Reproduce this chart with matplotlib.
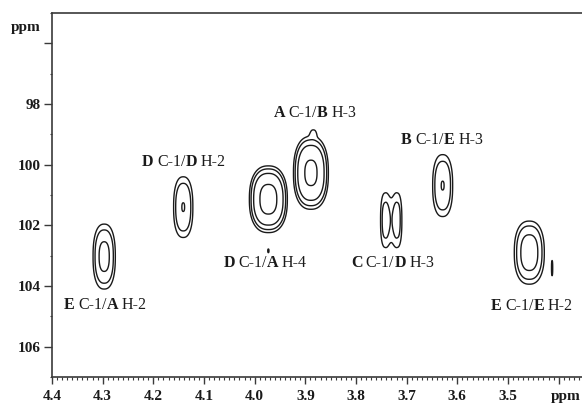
import numpy as np
import matplotlib
matplotlib.use('Agg')
import matplotlib.pyplot as plt
from matplotlib.ticker import MultipleLocator, FuncFormatter

plt.rcParams['font.family'] = ['Liberation Serif', 'DejaVu Serif']
plt.rcParams['font.weight'] = 'bold'
plt.rcParams['font.size'] = 11

# HMBC cross peaks (1H shift, 13C shift, spreads, intensity); same group = summed
shift_h = [4.297, 4.141, 3.973, 3.889, 3.884, 3.7427, 3.7184, 3.629, 3.458, 3.413, 3.973]
shift_c = [103.03, 101.40, 101.14, 100.27, 98.92, 101.83, 101.83, 100.69, 102.90, 103.41, 102.84]
width_h = [0.0256, 0.0236, 0.0338, 0.0320, 0.008, 0.0131, 0.0131, 0.0245, 0.0327, 0.0027, 0.0032]
width_c = [1.247, 1.243, 0.992, 1.115, 0.17, 1.31, 1.31, 1.268, 1.148, 0.568, 0.16]
height = [2.0, 1.81, 3.6, 3.3, 0.5, 1.482, 1.482, 1.81, 2.2, 1.15, 1.1]
group = [0, 1, 2, 3, 3, 4, 4, 5, 6, 7, 8]
levels = [1.0, 1.3, 1.8, 3.0]

# assignments: (text, bold) pieces, placed at (1H, 13C)
labels = [
    ([('E', 1), ('C-1/', 0), ('A', 1), ('H-2', 0)], 4.295, 104.62),
    ([('D', 1), ('C-1/', 0), ('D', 1), ('H-2', 0)], 4.140, 99.92),
    ([('D', 1), ('C-1/', 0), ('A', 1), ('H-4', 0)], 3.979, 103.25),
    ([('A', 1), ('C-1/', 0), ('B', 1), ('H-3', 0)], 3.881, 98.31),
    ([('C', 1), ('C-1/', 0), ('D', 1), ('H-3', 0)], 3.728, 103.25),
    ([('B', 1), ('C-1/', 0), ('E', 1), ('H-3', 0)], 3.630, 99.20),
    ([('E', 1), ('C-1/', 0), ('E', 1), ('H-2', 0)], 3.453, 104.65),
]
label_size = 11.5

p = 2.4
xh = np.linspace(3.354, 4.4, 3000)
yc = np.linspace(95, 107, 700)
X, Y = np.meshgrid(xh, yc)
sums = {}
for i in range(len(shift_h)):
    r = np.abs((X - shift_h[i]) / width_h[i]) ** p + np.abs((Y - shift_c[i]) / width_c[i]) ** p
    sums[group[i]] = sums.get(group[i], 0) + height[i] * np.exp(-r)
Z = np.max(np.stack(list(sums.values())), axis=0)

fig = plt.figure(figsize=(5.82, 4.05), dpi=100)
ax = fig.add_axes([52 / 582, 28 / 405, 530 / 582, 364 / 405])
ax.contour(X, Y, Z, levels=levels, colors='#1a1a1a', linewidths=1.0)

ax.set_xlim(4.4, 3.354)
ax.set_ylim(107, 95)
ax.spines['right'].set_visible(False)
for s in ['top', 'left', 'bottom']:
    ax.spines[s].set_linewidth(1.2)
    ax.spines[s].set_color('#3a3a3a')

ax.xaxis.set_major_locator(MultipleLocator(0.1))
ax.xaxis.set_minor_locator(MultipleLocator(0.01))
ax.xaxis.set_major_formatter(FuncFormatter(lambda v, _: '' if v < 3.45 else f'{v:.1f}'))
ax.yaxis.set_major_locator(MultipleLocator(2))
ax.yaxis.set_minor_locator(MultipleLocator(1))
ax.yaxis.set_major_formatter(FuncFormatter(lambda v, _: '' if v < 97 else f'{v:.0f}'))
ax.tick_params(axis='x', which='major', direction='out', length=5, width=1, pad=4.5, colors='#3a3a3a', labelcolor='#1a1a1a')
ax.tick_params(axis='x', which='minor', direction='out', length=2, width=0.8, colors='#3a3a3a')
ax.tick_params(axis='y', which='major', direction='out', length=6, width=1, pad=2, colors='#3a3a3a', labelcolor='#1a1a1a')
ax.tick_params(axis='y', which='minor', direction='out', length=1.5, width=0.8, colors='#3a3a3a')
ax.tick_params(top=False, right=False)

ax.annotate('ppm', xy=(1, 0), xycoords='axes fraction', xytext=(-1, -9.5),
            textcoords='offset points', ha='right', va='top', color='#1a1a1a')
fig.text(26 / 582, 1 - 27.5 / 405, 'ppm', ha='center', va='center', color='#1a1a1a')

# multi-weight labels: chain pieces, then centre each chain on its anchor
gap = 0.22 * label_size
chains = []
for pieces, x, y in labels:
    arts = []
    for k, (txt, b) in enumerate(pieces):
        w = 'bold' if b else 'normal'
        if k == 0:
            t = ax.annotate(txt, xy=(x, y), xytext=(0, 0), textcoords='offset pixels',
                            ha='left', va='center', fontweight=w, fontsize=label_size,
                            color='#1a1a1a')
        else:
            t = ax.annotate(txt, xy=(1, 0), xycoords=arts[-1], xytext=(gap if b == 0 else 0, 0),
                            textcoords='offset points', ha='left', va='bottom', fontweight=w,
                            fontsize=label_size, color='#1a1a1a')
        arts.append(t)
    chains.append(arts)

fig.canvas.draw()
r = fig.canvas.get_renderer()
for arts in chains:
    x0 = arts[0].get_window_extent(r).x0
    x1 = arts[-1].get_window_extent(r).x1
    arts[0].xyann = (-(x1 - x0) / 2, 0)

fig.savefig('out.png', dpi=100, facecolor='white')
